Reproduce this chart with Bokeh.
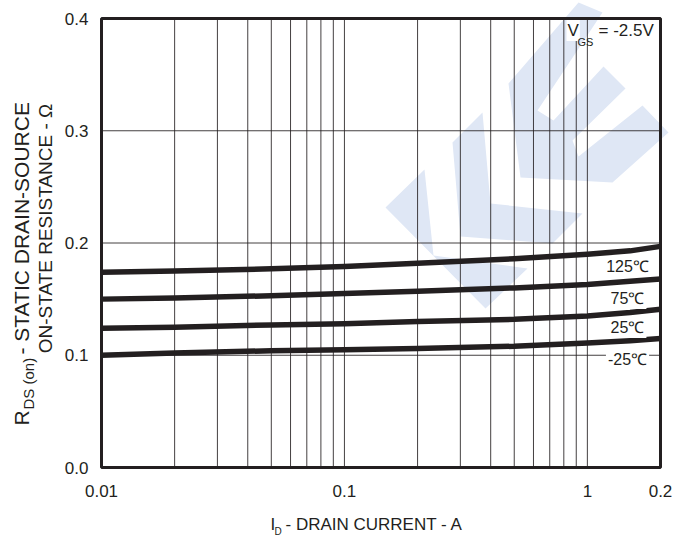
import math
from bokeh.plotting import figure
from bokeh.models import Label
from bokeh.core.properties import value
from bokeh.embed import file_html
from bokeh.resources import INLINE

# ---------------- data ----------------
current_a = [0.01, 0.02, 0.05, 0.1, 0.2, 0.5, 1.0, 1.5, 2.0]
r_125c = [0.174, 0.175, 0.177, 0.179, 0.182, 0.186, 0.190, 0.193, 0.197]
r_75c = [0.150, 0.151, 0.153, 0.155, 0.157, 0.160, 0.163, 0.166, 0.168]
r_25c = [0.124, 0.125, 0.127, 0.128, 0.130, 0.132, 0.135, 0.138, 0.141]
r_m25c = [0.100, 0.102, 0.104, 0.105, 0.106, 0.108, 0.111, 0.113, 0.115]
series_labels = ["125\u2103", "75\u2103", "25\u2103", "-25\u2103"]

x_ticks = [0.01, 0.1, 1, 2]
x_tick_labels = ["0.01", "0.1", "1", "0.2"]
y_ticks = [0.0, 0.1, 0.2, 0.3, 0.4]
y_tick_labels = ["0.0", "0.1", "0.2", "0.3", "0.4"]
x_grid = [0.02, 0.03, 0.04, 0.05, 0.06, 0.07, 0.08, 0.09,
          0.1, 0.2, 0.3, 0.4, 0.5, 0.6, 0.7, 0.8, 0.9, 1.0]
y_grid = [0.1, 0.2, 0.3]

# ---------------- layout ----------------
W, H = 678, 536
L, R, T, B = 101, 18, 18, 69          # plot-area margins in page pixels
FW, FH = W - L - R, H - T - B
INK = "#231f20"
FONT = "Liberation Sans"

xmin, xmax = x_ticks[0], x_ticks[-1]
ymin, ymax = y_ticks[0], y_ticks[-1]
dec = FW / math.log10(xmax / xmin)     # pixels per decade
ppu = FH / (ymax - ymin)               # pixels per ohm

# the frame covers the whole page so that every text stays inside it
p = figure(width=W, height=H, x_axis_type="log",
           x_range=(xmin * 10 ** (-L / dec), xmax * 10 ** (R / dec)),
           y_range=(ymin - B / ppu, ymax + T / ppu),
           x_axis_location=None, y_axis_location=None, title=None,
           output_backend="svg", toolbar_location=None,
           min_border=0, min_border_left=0, min_border_right=0,
           min_border_top=0, min_border_bottom=0)
p.outline_line_color = None
p.background_fill_color = "white"
p.border_fill_color = "white"
p.xgrid.visible = False
p.ygrid.visible = False

# watermark (decorative), given in page pixels and mapped into data space
def to_data(pts):
    xs, ys = [], []
    for px, py in pts:
        xs.append(xmin * 10 ** ((px - L) / dec))
        ys.append(ymin + (T + FH - py) / ppu)
    return xs, ys

wm = [
    [(385, 207), (424, 169), (433, 255), (527, 268), (485, 308)],
    [(452, 142), (482, 112), (490, 203), (582, 213), (552, 243), (460, 236)],
    [(508, 83), (578, 2), (602, 12), (537, 110), (553, 120), (603, 66), (625, 88),
     (572, 140), (578, 156), (642, 105), (668, 132), (612, 182), (520, 177)],
]
wxs, wys = [], []
for poly in wm:
    a, b = to_data(poly)
    wxs.append(a)
    wys.append(b)
p.patches(wxs, wys, fill_color="#dfe7f5", line_color=None)

# grid lines
p.segment(x0=x_grid, x1=x_grid, y0=[ymin] * len(x_grid), y1=[ymax] * len(x_grid),
          line_color=INK, line_width=1, line_alpha=0.85)
p.segment(x0=[xmin] * len(y_grid), x1=[xmax] * len(y_grid), y0=y_grid, y1=y_grid,
          line_color=INK, line_width=1, line_alpha=0.85)

# curves
for ys in (r_125c, r_75c, r_25c, r_m25c):
    p.line(current_a, ys, line_color=INK, line_width=5.5, line_join="round")

# plot-area border
p.quad(left=[xmin], right=[xmax], bottom=[ymin], top=[ymax],
       fill_color=None, line_color=INK, line_width=3)

# tick labels
p.text(x=x_ticks, y=[ymin] * len(x_ticks), text=x_tick_labels,
       text_font=value(FONT), text_font_size="17px", text_color=INK,
       text_align="center", text_baseline="middle", y_offset=23)
p.text(x=[xmin] * len(y_ticks), y=y_ticks, text=y_tick_labels,
       text_font=value(FONT), text_font_size="17px", text_color=INK,
       text_align="right", text_baseline="middle", x_offset=-13)

def lab(text, px, py, size, align="left", angle=0, bg=None, pad=0):
    kw = {}
    if bg:
        kw["background_fill_color"] = bg
        kw["padding"] = pad
    p.add_layout(Label(x=px, y=H - py, x_units="screen", y_units="screen",
                       text=text, text_font=FONT, text_font_size=size, text_color=INK,
                       text_align=align, text_baseline="middle", angle=angle, **kw))

# series labels
for t, py in zip(series_labels, [266, 298, 327, 359]):
    lab(t, 627, py, "16px", align="center", bg="white", pad=2)

# V_GS note
lab("V", 566, 30, "17px", bg="white", pad=1)
lab("GS", 577, 41, "11px")
lab("= -2.5V", 598, 30, "17px")

# x-axis title
lab("I", 270, 523.5, "17px")
lab("D", 274, 531, "10px")
lab("- DRAIN CURRENT - A", 285, 523.5, "17px")

# y-axis title (rotated)
rot = math.pi / 2
lab("R", 21, 425, "21px", angle=rot)
lab("DS (on)", 28, 409, "15px", angle=rot)
lab("- STATIC DRAIN-SOURCE", 21, 354, "21px", angle=rot)
lab("ON-STATE RESISTANCE - \u03a9", 45, 228, "19px", align="center", angle=rot)

open("out.html", "w").write(file_html(p, INLINE))
